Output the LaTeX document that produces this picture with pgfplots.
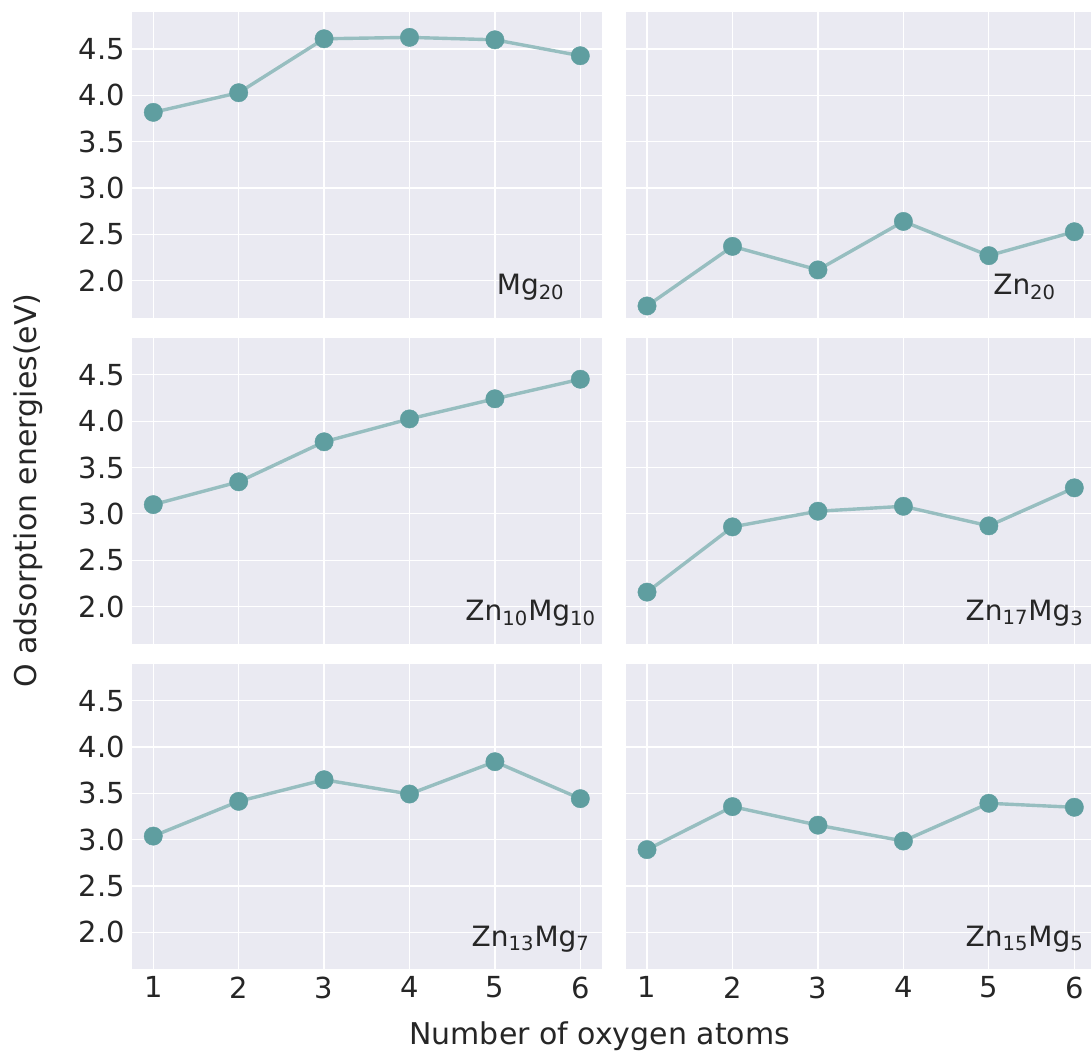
\documentclass[border=0pt]{standalone}
\usepackage{fontspec}
\setmainfont{DejaVu Sans}
\usepackage{pgfplots}
\pgfplotsset{compat=1.18}
\usepgfplotslibrary{groupplots}

\definecolor{bg}{HTML}{EAEAF2}
\definecolor{txt}{HTML}{262626}
\definecolor{mk}{HTML}{5F9EA0}
\definecolor{ln}{HTML}{97BEC0}

\pgfplotsset{
  panel/.style={
    scale only axis, width=235pt, height=153pt,
    xmin=0.75, xmax=6.25, ymin=1.6, ymax=4.9,
    xtick={1,2,3,4,5,6}, ytick={2,2.5,3,3.5,4,4.5},
    axis background/.style={fill=bg},
    axis line style={draw=none},
    major tick length=0pt,
    grid=major, major grid style={white, line width=0.6pt},
    tick label style={font=\fontsize{14.5}{17}\selectfont, color=txt},
    /pgf/number format/assume math mode=true,
    yticklabel style={/pgf/number format/fixed, /pgf/number format/fixed zerofill, /pgf/number format/precision=1},
  },
  pl/.style={color=ln, line width=1.7pt, mark=*, mark size=4.6pt,
    mark options={color=mk, line width=0.2pt}},
}
\tikzset{lab/.style={font=\fontsize{14}{16}\selectfont, color=txt, anchor=base}}

\begin{document}
\begin{tikzpicture}
\begin{groupplot}[
  group style={group size=2 by 3, horizontal sep=12pt, vertical sep=10pt,
    xticklabels at=edge bottom, yticklabels at=edge left},
  panel,
]
% Mg20
\nextgroupplot
\addplot[pl] table {
1 3.817
2 4.029
3 4.611
4 4.626
5 4.600
6 4.428
};
\node[lab] at (axis cs:5.42,1.85) {Mg\textsubscript{20}};

% Zn20
\nextgroupplot[width=233pt, xmax=6.2]
\addplot[pl] table {
1 1.728
2 2.371
3 2.117
4 2.640
5 2.271
6 2.529
};
\node[lab] at (axis cs:5.42,1.85) {Zn\textsubscript{20}};

% Zn10Mg10
\nextgroupplot
\addplot[pl] table {
1 3.100
2 3.346
3 3.778
4 4.025
5 4.242
6 4.453
};
\node[lab] at (axis cs:5.42,1.85) {Zn\textsubscript{10}Mg\textsubscript{10}};

% Zn17Mg3
\nextgroupplot[width=233pt, xmax=6.2]
\addplot[pl] table {
1 2.156
2 2.860
3 3.029
4 3.082
5 2.871
6 3.281
};
\node[lab] at (axis cs:5.42,1.85) {Zn\textsubscript{17}Mg\textsubscript{3}};

% Zn13Mg7
\nextgroupplot
\addplot[pl] table {
1 3.039
2 3.414
3 3.647
4 3.493
5 3.842
6 3.443
};
\node[lab] at (axis cs:5.42,1.85) {Zn\textsubscript{13}Mg\textsubscript{7}};

% Zn15Mg5
\nextgroupplot[width=233pt, xmax=6.2]
\addplot[pl] table {
1 2.893
2 3.357
3 3.157
4 2.986
5 3.393
6 3.350
};
\node[lab] at (axis cs:5.42,1.85) {Zn\textsubscript{15}Mg\textsubscript{5}};
\end{groupplot}

\node[rotate=90, color=txt, font=\fontsize{15}{18}\selectfont] at ([xshift=-52pt]group c1r2.west) {O adsorption energies(eV)};
\node[color=txt, font=\fontsize{15}{18}\selectfont] at ([xshift=-1pt, yshift=-33.5pt]group c1r3.south east) {Number of oxygen atoms};
% figure frame
\path ([xshift=-66pt, yshift=6pt]group c1r1.north west) rectangle ++(546pt,-526pt);
\end{tikzpicture}
\end{document}
